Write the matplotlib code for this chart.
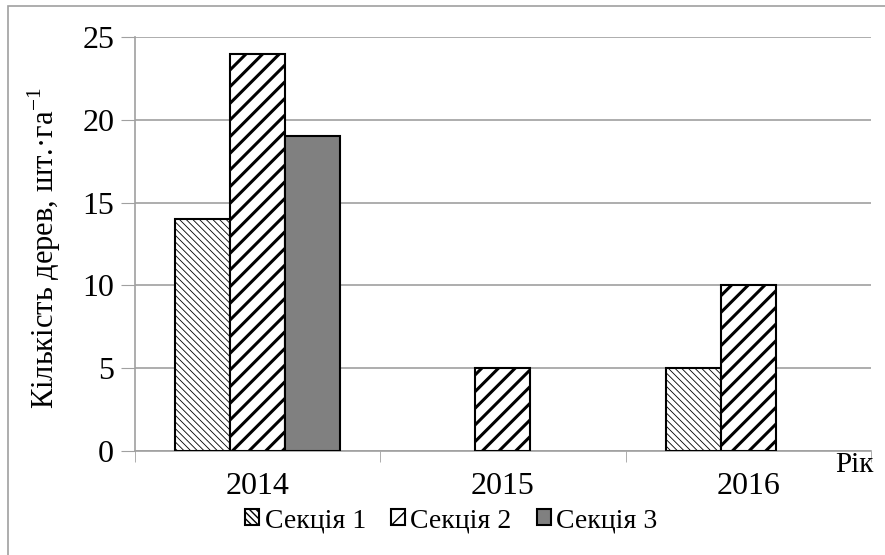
import matplotlib.pyplot as plt
from matplotlib.patches import Rectangle
import numpy as np

plt.rcParams['font.family'] = 'serif'
plt.rcParams['font.serif'] = ['Liberation Serif', 'DejaVu Serif']
plt.rcParams['mathtext.fontset'] = 'custom'
plt.rcParams['mathtext.rm'] = 'Liberation Serif'

years = ['2014', '2015', '2016']
sektsiia_1 = [14, 0, 5]
sektsiia_2 = [24, 5, 10]
sektsiia_3 = [19, 0, 0]
names = ['Секція 1', 'Секція 2', 'Секція 3']

fig = plt.figure(figsize=(8.85, 5.55), dpi=100)
ax = fig.add_axes([0.1525, 0.1874, 0.8315, 0.7459])

# рамка навколо діаграми (права і нижня сторони обрізані)
fig.patches.append(Rectangle((8 / 885, -0.1), 1.2, 1 - 6 / 555 + 0.1, transform=fig.transFigure,
                             fill=False, edgecolor='#a0a0a0', lw=1.2, zorder=0))

x = np.arange(len(years))
w = 0.2245
styles = [dict(color='white', hatch='\\\\\\\\\\', hlw=0.6),
          dict(color='white', hatch='//', hlw=2.2),
          dict(color='#808080', hatch=None, hlw=1.0)]

for i, (vals, st) in enumerate(zip([sektsiia_1, sektsiia_2, sektsiia_3], styles)):
    plt.rcParams['hatch.linewidth'] = st['hlw']
    b = ax.bar(x + (i - 1) * w, vals, w, color=st['color'], edgecolor='black',
               hatch=st['hatch'], linewidth=1.5, zorder=3, label=names[i])
    for p in b:
        if hasattr(p, 'set_hatch_linewidth'):
            p.set_hatch_linewidth(st['hlw'])
        if p.get_height() == 0:
            p.set_visible(False)

ax.set_xlim(-0.5, 2.5)
ax.set_ylim(0, 25)
ax.set_yticks([0, 5, 10, 15, 20, 25])
ax.set_xticks(x)
ax.set_xticklabels(years)
ax.set_xticks([-0.5, 0.5, 1.5, 2.5], minor=True)
ax.tick_params(axis='x', which='major', length=0, labelsize=23, pad=15)
ax.tick_params(axis='x', which='minor', length=8, color='#a0a0a0', direction='out')
ax.tick_params(axis='y', length=10, color='#a0a0a0', labelsize=23, pad=5)
ax.grid(axis='y', color='#a0a0a0', lw=1.2, zorder=0)
for s in ['top', 'right']:
    ax.spines[s].set_visible(False)
for s in ['left', 'bottom']:
    ax.spines[s].set_color('#a0a0a0')
    ax.spines[s].set_linewidth(1.2)

fig.text(44 / 885, 1 - 248 / 555, 'Кількість дерев, шт.·га$^{\\mathregular{-1}}$', rotation=90,
         ha='center', va='center', fontsize=22)
fig.text(874 / 885, 1 - 465 / 555, 'Рік', ha='right', va='center', fontsize=21)

fig.legend(loc='center', bbox_to_anchor=(0.51, 0.062), ncol=3, frameon=False,
           fontsize=20, handlelength=0.5, handleheight=0.5, handletextpad=0.2,
           columnspacing=0.9)

fig.savefig('out.png', dpi=100)
